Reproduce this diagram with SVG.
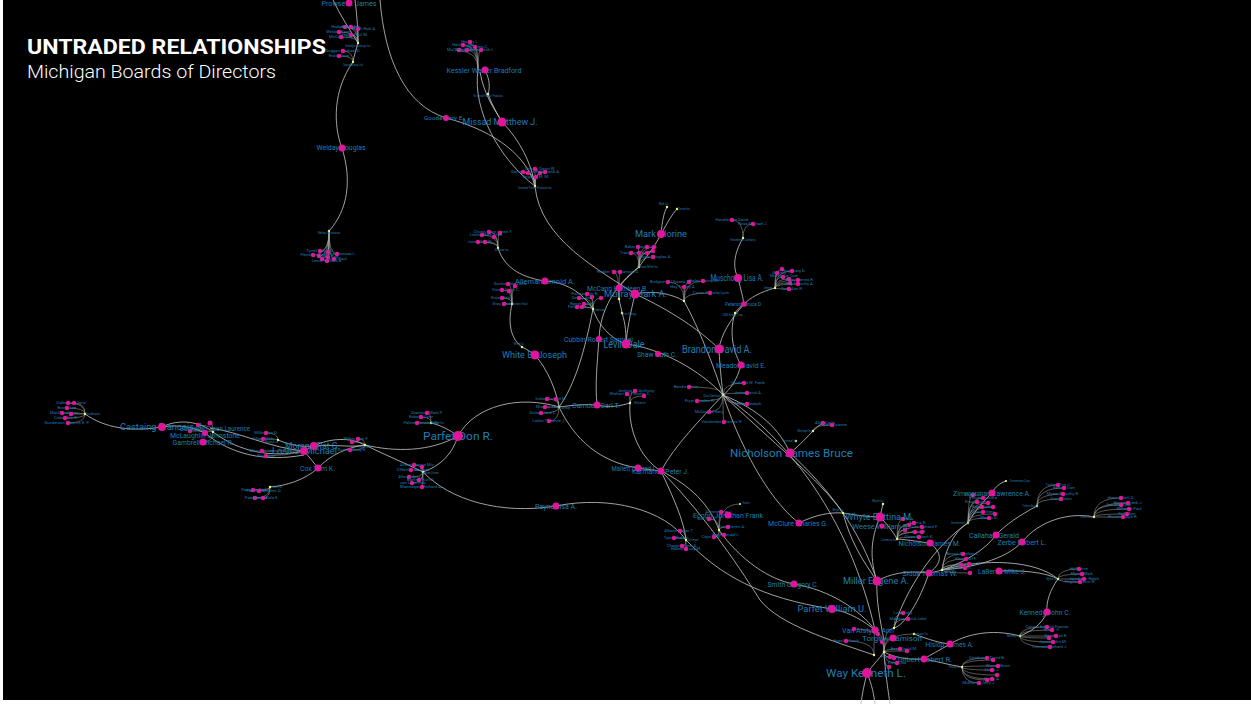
<svg xmlns="http://www.w3.org/2000/svg" width="1251" height="704" viewBox="0 0 1251 704">
<style>
.l{font-family:Roboto,"Liberation Sans",sans-serif;fill:#1c7fb4;text-anchor:middle}
.x{font-size:4.2px}
.hl{font-family:Roboto,"Liberation Sans",sans-serif;font-size:2.6px;fill:#2a7fae;text-anchor:middle}
.n{fill:#e0169a}
.h{fill:#e9f77a}
.e{fill:none;stroke:#bdbdbd;stroke-width:.85}
.f{fill:none;stroke:#a9a9a9;stroke-width:.5}
</style>
<rect width="1251" height="704" fill="#fff"/>
<rect x="3" y="0" width="1248" height="700" fill="#000"/>
<g id="title">
<text x="27" y="54" font-family="Roboto,'Liberation Sans',sans-serif" font-weight="700" font-size="21" fill="#fff" textLength="299" lengthAdjust="spacingAndGlyphs">UNTRADED RELATIONSHIPS</text>
<text x="27" y="78" font-family="Roboto,'Liberation Sans',sans-serif" font-weight="300" font-size="19" fill="#fff" textLength="249" lengthAdjust="spacingAndGlyphs">Michigan Boards of Directors</text>
</g>
<g id="connectors">
<path class="e" d="M333,0 C340,15 350,30 358,43"/>
<path class="e" d="M355,0 C357,15 358,30 358,43"/>
<path class="e" d="M380,0 C385,60 405,105 446,118"/>
<path class="e" d="M446,118 C485,128 525,150 535,186"/>
<path class="e" d="M358,43 C356,50 354,56 353,62"/>
<path class="e" d="M353,62 C333,90 333,125 342,148"/>
<path class="e" d="M342,148 C352,180 348,210 329,231"/>
<path class="e" d="M478,70 C472,110 500,160 535,186"/>
<path class="e" d="M485,70 C490,80 490,88 488,94"/>
<path class="e" d="M488,94 C492,105 498,115 502,122"/>
<path class="e" d="M480,72 C484,95 495,110 502,122"/>
<path class="e" d="M502,122 C520,140 532,165 535,186"/>
<path class="e" d="M535,186 C540,240 600,270 635,294"/>
<path class="e" d="M635,294 C670,310 700,330 719,349"/>
<path class="e" d="M498,248 C505,270 525,278 545,281"/>
<path class="e" d="M545,281 C565,282 582,292 593,309"/>
<path class="e" d="M512,304 C507,325 512,340 522,347"/>
<path class="e" d="M522,347 C528,350 532,353 535,355"/>
<path class="e" d="M535,355 C548,370 556,390 559,407"/>
<path class="e" d="M593,309 C600,330 615,340 626,344"/>
<path class="e" d="M593,309 C585,350 575,385 559,407"/>
<path class="e" d="M661,234 C653,250 645,258 639,267"/>
<path class="e" d="M661,234 C662,222 664,212 667,207"/>
<path class="e" d="M661,234 C668,222 672,214 677,209"/>
<path class="e" d="M639,267 C615,285 600,310 599,339"/>
<path class="e" d="M599,339 C597,365 595,385 597,405"/>
<path class="e" d="M559,407 C575,405 585,404 597,405"/>
<path class="e" d="M597,405 C610,408 620,406 630,403"/>
<path class="e" d="M639,267 C630,275 622,282 619,288"/>
<path class="e" d="M619,288 C619,292 619,296 619,299 C620,305 622,310 622,313 C626,325 626,335 626,344"/>
<path class="e" d="M635,294 C630,315 627,330 626,344"/>
<path class="e" d="M635,294 C655,290 672,294 684,301"/>
<path class="e" d="M626,344 C660,348 700,370 723,395"/>
<path class="e" d="M684,301 C700,330 715,370 723,395"/>
<path class="e" d="M743,238 C733,255 733,268 738,278"/>
<path class="e" d="M738,278 C741,290 743,298 744,304"/>
<path class="e" d="M775,288 C760,292 750,298 744,304"/>
<path class="e" d="M744,304 C740,307 737,310 735,313"/>
<path class="e" d="M744,304 C730,320 721,335 719,349"/>
<path class="e" d="M735,313 C728,335 735,355 741,365"/>
<path class="e" d="M741,365 C737,380 730,390 723,395"/>
<path class="e" d="M719,349 C720,370 722,385 723,395"/>
<path class="e" d="M723,395 C760,410 780,430 790,453"/>
<path class="e" d="M723,395 C745,460 775,505 799,523"/>
<path class="e" d="M723,395 C790,440 850,520 875,630"/>
<path class="e" d="M723,395 C770,440 820,480 843,513"/>
<path class="e" d="M723,395 C700,420 675,445 661,471"/>
<path class="e" d="M686,540 C720,575 760,598 832,609"/>
<path class="e" d="M832,609 C850,612 865,622 875,630"/>
<path class="e" d="M719,530 C740,560 770,580 794,584"/>
<path class="e" d="M794,584 C830,590 860,610 875,630"/>
<path class="e" d="M661,471 C690,485 710,505 719,530"/>
<path class="e" d="M661,471 C672,495 684,520 686,540"/>
<path class="e" d="M661,471 C700,510 735,560 760,600 C780,625 830,640 874,655"/>
<path class="e" d="M638,468 C650,470 655,470 661,471"/>
<path class="e" d="M559,407 C575,440 600,462 638,468"/>
<path class="e" d="M630,403 C628,430 640,458 661,471"/>
<path class="e" d="M423,472 C450,500 500,515 556,506"/>
<path class="e" d="M556,506 C610,495 665,510 686,540"/>
<path class="e" d="M559,407 C520,395 475,405 458,436"/>
<path class="e" d="M458,436 C452,455 440,466 423,472"/>
<path class="e" d="M458,436 C430,452 395,452 365,445"/>
<path class="e" d="M365,445 C385,455 405,463 423,472"/>
<path class="e" d="M431,423 C440,425 450,430 458,436"/>
<path class="e" d="M85,414 C105,428 130,432 162,427"/>
<path class="e" d="M162,427 C180,418 200,422 213,432"/>
<path class="e" d="M162,427 C180,424 195,428 205,433"/>
<path class="e" d="M213,432 C240,452 270,458 304,451"/>
<path class="e" d="M205,433 C232,455 265,462 304,455"/>
<path class="e" d="M210,428 C240,432 270,448 304,451"/>
<path class="e" d="M304,451 C308,449 311,447 314,446"/>
<path class="e" d="M314,446 C330,438 350,437 365,445"/>
<path class="e" d="M314,446 C335,444 352,448 365,445"/>
<path class="e" d="M278,440 C292,446 304,447 314,446"/>
<path class="e" d="M318,468 C305,480 285,486 270,487"/>
<path class="e" d="M318,468 C330,455 348,447 365,445"/>
<path class="e" d="M304,451 C310,458 314,463 318,468"/>
<path class="e" d="M790,453 C800,445 808,436 813,431"/>
<path class="e" d="M813,431 C817,427 820,425 823,423"/>
<path class="e" d="M790,453 C830,490 860,530 877,581"/>
<path class="e" d="M799,523 C815,515 830,512 843,513"/>
<path class="e" d="M843,513 C855,515 868,517 880,517"/>
<path class="e" d="M883,504 C882,508 881,512 880,517"/>
<path class="e" d="M880,517 C888,525 893,532 897,539"/>
<path class="e" d="M897,539 C910,540 920,542 930,543"/>
<path class="e" d="M929,573 C905,570 890,574 877,581"/>
<path class="e" d="M929,573 C935,572 938,571 942,570"/>
<path class="e" d="M942,570 C945,550 955,530 968,523"/>
<path class="e" d="M968,523 C975,510 985,500 992,493"/>
<path class="e" d="M992,493 C995,487 1000,483 1006,481"/>
<path class="e" d="M1037,506 C1020,515 1005,525 996,535"/>
<path class="e" d="M996,535 C985,550 965,562 942,570"/>
<path class="e" d="M1022,542 C1040,520 1070,512 1094,517"/>
<path class="e" d="M1022,542 C1005,560 970,568 942,570"/>
<path class="e" d="M942,570 C985,558 1035,560 1058,579"/>
<path class="e" d="M999,571 C1020,570 1045,572 1058,579"/>
<path class="e" d="M1058,579 C1050,590 1046,602 1047,612"/>
<path class="e" d="M1047,612 C1042,625 1030,632 1020,636"/>
<path class="e" d="M1020,636 C990,628 965,635 950,644"/>
<path class="e" d="M950,644 C940,650 930,655 924,659"/>
<path class="e" d="M962,667 C950,665 935,661 924,659"/>
<path class="e" d="M877,581 C876,600 880,620 884,640"/>
<path class="e" d="M924,659 C910,660 895,658 884,652"/>
<path class="e" d="M884,652 C878,660 872,666 867,673"/>
<path class="e" d="M867,673 C864,685 862,695 861,704"/>
<path class="e" d="M867,673 C872,685 874,695 875,704"/>
<path class="e" d="M884,652 C885,670 888,690 890,704"/>
<path class="e" d="M880,517 C870,540 870,560 877,581"/>
<path class="e" d="M843,513 C850,540 862,560 877,581"/>
<path class="e" d="M929,573 C920,600 905,625 894,628"/>
<path class="e" d="M914,634 C930,640 940,643 950,644"/>
<path class="e" d="M930,543 C945,555 940,565 929,573"/>
<path class="e" d="M968,523 C935,545 905,590 894,628"/>
<g class="f">
<path d="M345,27 Q358,27 358,43"/><path d="M351,27 Q358,27 358,43"/><path d="M358,29 Q358,29 358,43"/><path d="M339,32 Q358,32 358,43"/><path d="M351,35 Q358,35 358,43"/><path d="M341,37 Q358,37 358,43"/>
<path d="M343,51 Q353,51 353,62"/><path d="M339,56 Q353,56 353,62"/>
<path d="M463,45 Q478,45 478,70"/><path d="M470,44 Q478,44 478,70"/><path d="M475,47 Q478,47 478,70"/><path d="M481,50 Q478,50 478,70"/><path d="M459,51 Q478,51 478,70"/><path d="M467,50 Q478,50 478,70"/>
<path d="M535,169 Q535,169 535,186"/><path d="M523,172 Q535,172 535,186"/><path d="M528,173 Q535,173 535,186"/><path d="M540,173 Q535,173 535,186"/><path d="M545,172 Q535,172 535,186"/><path d="M536,177 Q535,177 535,186"/>
<path d="M320,251 Q329,251 329,231"/><path d="M328,252 Q329,252 329,231"/><path d="M337,254 Q329,254 329,231"/><path d="M313,255 Q329,255 329,231"/><path d="M319,256 Q329,256 329,231"/><path d="M328,257 Q329,257 329,231"/><path d="M322,259 Q329,259 329,231"/><path d="M334,259 Q329,259 329,231"/><path d="M327,261 Q329,261 329,231"/>
<path d="M489,232 Q498,232 498,248"/><path d="M500,233 Q498,233 498,248"/><path d="M482,235 Q498,235 498,248"/><path d="M494,237 Q498,237 498,248"/><path d="M478,242 Q498,242 498,248"/><path d="M485,242 Q498,242 498,248"/>
<path d="M508,284 Q512,284 512,304"/><path d="M515,286 Q512,286 512,304"/><path d="M502,290 Q512,290 512,304"/><path d="M509,291 Q512,291 512,304"/><path d="M502,298 Q512,298 512,304"/><path d="M504,304 Q512,304 512,304"/>
<path d="M587,294 Q593,294 593,309"/><path d="M592,297 Q593,297 593,309"/><path d="M579,298 Q593,298 593,309"/><path d="M601,298 Q593,298 593,309"/><path d="M584,304 Q593,304 593,309"/><path d="M577,307 Q593,307 593,309"/><path d="M582,307 Q593,307 593,309"/>
<path d="M638,247 Q639,247 639,267"/><path d="M647,247 Q639,247 639,267"/><path d="M654,247 Q639,247 639,267"/><path d="M631,253 Q639,253 639,267"/><path d="M639,253 Q639,253 639,267"/><path d="M647,253 Q639,253 639,267"/><path d="M653,251 Q639,251 639,267"/><path d="M653,257 Q639,257 639,267"/>
<path d="M614,272 Q619,272 619,299"/><path d="M620,272 Q619,272 619,299"/>
<path d="M668,282 Q684,282 684,301"/><path d="M689,282 Q684,282 684,301"/><path d="M703,281 Q684,281 684,301"/><path d="M684,287 Q684,287 684,301"/><path d="M710,293 Q684,293 684,301"/>
<path d="M732,220 Q743,220 743,238"/><path d="M753,224 Q743,224 743,238"/>
<path d="M777,273 Q775,273 775,288"/><path d="M782,269 Q775,269 775,288"/><path d="M792,271 Q775,271 775,288"/><path d="M789,279 Q775,279 775,288"/><path d="M798,280 Q775,280 775,288"/><path d="M783,277 Q775,277 775,288"/><path d="M790,283 Q775,283 775,288"/><path d="M798,284 Q775,284 775,288"/><path d="M789,289 Q775,289 775,288"/>
<path d="M744,383 Q723,383 723,395"/><path d="M747,393 Q723,393 723,395"/><path d="M747,404 Q723,404 723,395"/><path d="M689,387 Q723,387 723,395"/><path d="M697,401 Q723,401 723,395"/><path d="M709,412 Q723,412 723,395"/><path d="M724,422 Q723,422 723,395"/>
<path d="M832,425 Q813,425 813,431"/>
<path d="M547,399 Q559,399 559,407"/><path d="M556,399 Q559,399 559,407"/><path d="M545,407 Q559,407 559,407"/><path d="M541,413 Q559,413 559,407"/><path d="M549,421 Q559,421 559,407"/>
<path d="M635,391 Q630,391 630,403"/><path d="M627,394 Q630,394 630,403"/><path d="M644,396 Q630,396 630,403"/>
<path d="M427,413 Q431,413 431,423"/><path d="M421,417 Q431,417 431,423"/><path d="M417,423 Q431,423 431,423"/>
<path d="M414,465 Q423,465 423,472"/><path d="M422,467 Q423,467 423,472"/><path d="M411,470 Q423,470 423,472"/><path d="M409,477 Q423,477 423,472"/><path d="M419,480 Q423,480 423,472"/><path d="M412,483 Q423,483 423,472"/><path d="M422,487 Q423,487 423,472"/>
<path d="M68,403 Q85,403 85,414"/><path d="M74,403 Q85,403 85,414"/><path d="M67,408 Q85,408 85,414"/><path d="M62,413 Q85,413 85,414"/><path d="M71,414 Q85,414 85,414"/><path d="M65,418 Q85,418 85,414"/><path d="M68,423 Q85,423 85,414"/>
<path d="M198,425 Q213,425 213,432"/><path d="M210,423 Q213,423 213,432"/><path d="M190,431 Q213,431 213,432"/><path d="M203,442 Q213,442 213,432"/>
<path d="M266,433 Q278,433 278,440"/><path d="M263,439 Q278,439 278,440"/>
<path d="M262,451 Q280,451 304,451"/><path d="M266,456 Q285,456 304,451"/>
<path d="M352,442 Q365,442 365,445"/><path d="M358,439 Q365,439 365,445"/><path d="M350,450 Q365,450 365,445"/>
<path d="M253,490 Q270,490 270,487"/><path d="M259,491 Q270,491 270,487"/><path d="M255,498 Q270,498 270,487"/><path d="M263,498 Q270,498 270,487"/>
<path d="M721,512 Q719,512 719,530"/><path d="M709,519 Q719,519 719,530"/><path d="M728,527 Q719,527 719,530"/><path d="M724,535 Q719,535 719,530"/><path d="M714,537 Q719,537 719,530"/><path d="M740,504 Q719,504 719,530"/>
<path d="M680,531 Q686,531 686,540"/><path d="M674,538 Q686,538 686,540"/><path d="M682,546 Q686,546 686,540"/><path d="M686,549 Q686,549 686,540"/>
<path d="M903,519 Q897,519 897,539"/><path d="M914,523 Q897,523 897,539"/><path d="M909,525 Q897,525 897,539"/><path d="M922,527 Q897,527 897,539"/><path d="M905,530 Q897,530 897,539"/><path d="M915,532 Q897,532 897,539"/><path d="M922,532 Q897,532 897,539"/><path d="M919,537 Q897,537 897,539"/>
<path d="M973,495 Q968,495 968,523"/><path d="M983,498 Q968,498 968,523"/><path d="M977,502 Q968,502 968,523"/><path d="M988,503 Q968,503 968,523"/><path d="M982,507 Q968,507 968,523"/><path d="M993,507 Q968,507 968,523"/><path d="M983,512 Q968,512 968,523"/><path d="M995,514 Q968,514 968,523"/><path d="M989,518 Q968,518 968,523"/>
<path d="M1058,485 Q1037,485 1037,506"/><path d="M1064,488 Q1037,488 1037,506"/><path d="M1063,494 Q1037,494 1037,506"/><path d="M1061,499 Q1037,499 1037,506"/>
<path d="M1121,498 Q1094,498 1094,517"/><path d="M1128,503 Q1094,503 1094,517"/><path d="M1121,505 Q1094,505 1094,517"/><path d="M1129,509 Q1094,509 1094,517"/><path d="M1127,514 Q1094,514 1094,517"/><path d="M1123,517 Q1094,517 1094,517"/>
<path d="M963,554 Q942,554 942,570"/><path d="M966,559 Q942,559 942,570"/><path d="M969,564 Q942,564 942,570"/><path d="M961,565 Q942,565 942,570"/><path d="M965,568 Q942,568 942,570"/><path d="M970,573 Q942,573 942,570"/>
<path d="M1079,569 Q1058,569 1058,579"/><path d="M1082,574 Q1058,574 1058,579"/><path d="M1084,579 Q1058,579 1058,579"/><path d="M1080,582 Q1058,582 1058,579"/>
<path d="M1047,627 Q1020,627 1020,636"/><path d="M1052,630 Q1020,630 1020,636"/><path d="M1056,636 Q1020,636 1020,636"/><path d="M1049,638 Q1020,638 1020,636"/><path d="M1053,642 Q1020,642 1020,636"/><path d="M1050,647 Q1020,647 1020,636"/>
<path d="M987,658 Q962,658 962,667"/><path d="M993,660 Q962,660 962,667"/><path d="M998,666 Q962,666 962,667"/><path d="M992,670 Q962,670 962,667"/><path d="M997,675 Q962,675 962,667"/><path d="M992,679 Q962,679 962,667"/><path d="M987,680 Q962,680 962,667"/><path d="M979,683 Q962,683 962,667"/>
<path d="M903,613 Q894,613 894,628"/><path d="M908,619 Q894,619 894,628"/><path d="M854,629 Q884,629 884,652"/><path d="M878,634 Q884,634 884,652"/><path d="M846,641 Q874,641 874,655"/><path d="M882,642 Q884,642 884,652"/><path d="M900,649 Q884,649 884,652"/><path d="M907,651 Q884,651 884,652"/><path d="M890,657 Q884,657 884,652"/><path d="M894,658 Q884,658 884,652"/><path d="M897,663 Q884,663 884,652"/><path d="M889,667 Q884,667 884,652"/><path d="M893,638 Q884,638 884,652"/><path d="M894,628 Q884,628 884,652"/><path d="M914,634 Q884,634 884,652"/><path d="M875,630 Q874,630 874,655"/>
</g>
</g>
<g id="hubs">
<circle class="h" cx="358" cy="43" r="1.2"/><text class="hl" x="358" y="46.5">Strategic Holdings Inc.</text>
<circle class="h" cx="353" cy="62" r="1.2"/><text class="hl" x="353" y="65.5">Capital Group Ltd.</text>
<circle class="h" cx="488" cy="94" r="1.2"/><text class="hl" x="488" y="97">Universal Forest Products</text>
<circle class="h" cx="535" cy="186" r="1.2"/><text class="hl" x="535" y="189">Universal Forest Products Inc.</text>
<circle class="h" cx="329" cy="231" r="1.2"/><text class="hl" x="329" y="234">Welday Corporation</text>
<circle class="h" cx="498" cy="248" r="1.2"/><text class="hl" x="502" y="250.5">Alleman Inc.</text>
<circle class="h" cx="512" cy="304" r="1.2"/><text class="hl" x="520" y="305">Gordon Food</text>
<circle class="h" cx="522" cy="347" r="1.2"/><text class="hl" x="519" y="345">White Co.</text>
<circle class="h" cx="593" cy="309" r="1.2"/><text class="hl" x="600" y="311">Steelcase</text>
<circle class="h" cx="639" cy="267" r="1.2"/><text class="hl" x="648" y="267.5">Herman Miller Inc.</text>
<circle class="h" cx="619" cy="299" r="1.2"/>
<circle class="h" cx="622" cy="313" r="1.2"/><text class="hl" x="629" y="315">Levin Energy</text>
<circle class="h" cx="667" cy="207" r="1.2"/><text class="hl" x="664" y="205">Mark Co.</text>
<circle class="h" cx="677" cy="209" r="1.2"/><text class="hl" x="684" y="210">Clorine Inc.</text>
<circle class="h" cx="684" cy="301" r="1.2"/>
<circle class="h" cx="743" cy="238" r="1.2"/><text class="hl" x="743" y="241">Handleman Company</text>
<circle class="h" cx="775" cy="288" r="1.2"/><text class="hl" x="768" y="289">Gentex</text>
<circle class="h" cx="735" cy="313" r="1.2"/><text class="hl" x="733" y="315.5">CMS Energy Corp.</text>
<circle class="h" cx="723" cy="395" r="1.4"/><text class="hl" x="714" y="397">Dow Chemical Co.</text>
<circle class="h" cx="813" cy="431" r="1.2"/><text class="hl" x="805" y="432">Meritage Inc.</text>
<circle class="h" cx="796" cy="441" r="1.2"/><text class="hl" x="790" y="442">Universal Inc.</text>
<circle class="h" cx="559" cy="407" r="1.3"/><text class="hl" x="566" y="408.5">Amway</text>
<circle class="h" cx="630" cy="403" r="1.2"/><text class="hl" x="640" y="404">Wolverine</text>
<circle class="h" cx="431" cy="423" r="1.2"/><text class="hl" x="438" y="424">Palmer Inc.</text>
<circle class="h" cx="423" cy="472" r="1.3"/><text class="hl" x="430" y="474">Spartan Stores</text>
<circle class="h" cx="85" cy="414" r="1.2"/><text class="hl" x="93" y="414.5">Gundersons</text>
<circle class="h" cx="213" cy="432" r="1.2"/>
<circle class="h" cx="278" cy="440" r="1.2"/><text class="hl" x="272" y="443">Morand Ltd.</text>
<circle class="h" cx="365" cy="445" r="1.2"/><text class="hl" x="365" y="448">Tecumseh</text>
<circle class="h" cx="270" cy="487" r="1.2"/><text class="hl" x="278" y="488">Cox Inc.</text>
<circle class="h" cx="719" cy="530" r="1.2"/>
<circle class="h" cx="740" cy="504" r="1.1"/><text class="hl" x="746" y="504">Ecofin</text>
<circle class="h" cx="686" cy="540" r="1.2"/><text class="hl" x="693" y="541">Universal</text>
<circle class="h" cx="843" cy="513" r="1.2"/><text class="hl" x="838" y="511">Whyte Co.</text>
<circle class="h" cx="883" cy="504" r="1.2"/><text class="hl" x="878" y="502">Whyte Ltd.</text>
<circle class="h" cx="897" cy="539" r="1.2"/><text class="hl" x="889" y="541">Comerica Inc.</text>
<circle class="h" cx="968" cy="523" r="1.2"/><text class="hl" x="960" y="524">Zimmerman Co.</text>
<circle class="h" cx="1006" cy="481" r="1.1"/><text class="hl" x="1020" y="482">Zimmerman Corp.</text>
<circle class="h" cx="1037" cy="506" r="1.2"/><text class="hl" x="1030" y="507">Tichen Group</text>
<circle class="h" cx="1094" cy="517" r="1.2"/><text class="hl" x="1087" y="518">Hose Corp.</text>
<circle class="h" cx="942" cy="570" r="1.2"/><text class="hl" x="950" y="571.5">Siduk Inc.</text>
<circle class="h" cx="1058" cy="579" r="1.2"/><text class="hl" x="1052" y="580">Myers Co.</text>
<circle class="h" cx="1020" cy="636" r="1.2"/><text class="hl" x="1014" y="637">Kennedy Inc.</text>
<circle class="h" cx="962" cy="667" r="1.2"/><text class="hl" x="955" y="668">Hislop Co.</text>
<circle class="h" cx="884" cy="652" r="1.3"/>
<circle class="h" cx="894" cy="628" r="1.2"/>
<circle class="h" cx="914" cy="634" r="1.2"/><text class="hl" x="921" y="635">Jamison Co.</text>
<circle class="h" cx="874" cy="655" r="1.2"/>
</g>
<g id="small-nodes">
<g id="s1"><text class="l x" x="345" y="28.4">Hodges Martin</text><circle class="n" cx="345" cy="27" r="2.2"/></g>
<g id="s2"><text class="l x" x="351" y="28.4">Baker Ann</text><circle class="n" cx="351" cy="27" r="2.2"/></g>
<g id="s3"><text class="l x" x="364" y="30.4">Burch Rick A.</text><circle class="n" cx="358" cy="29" r="2.2"/></g>
<g id="s4"><text class="l x" x="339" y="33.4">Welday Karen</text><circle class="n" cx="339" cy="32" r="2.2"/></g>
<g id="s5"><text class="l x" x="355" y="36.4">Heller Paul M.</text><circle class="n" cx="351" cy="35" r="2.2"/></g>
<g id="s6"><text class="l x" x="341" y="38.4">McCarty Sue</text><circle class="n" cx="341" cy="37" r="2.2"/></g>
<g id="s7"><text class="l x" x="343" y="52.4">Duggan Michael D.</text><circle class="n" cx="343" cy="51" r="2.2"/></g>
<g id="s8"><text class="l x" x="339" y="57.4">Risley Tom</text><circle class="n" cx="339" cy="56" r="2.2"/></g>
<g id="s9"><text class="l x" x="463" y="46.4">Hartley Jon</text><circle class="n" cx="463" cy="45" r="2.2"/></g>
<g id="s10"><text class="l x" x="470" y="43.4">Hendry L.</text><circle class="n" cx="470" cy="42" r="2.2"/></g>
<g id="s11"><text class="l x" x="477" y="48.4">Hall Craig C.</text><circle class="n" cx="475" cy="47" r="2.2"/></g>
<g id="s12"><text class="l x" x="481" y="51.4">Martin Keith L.</text><circle class="n" cx="481" cy="50" r="2.2"/></g>
<g id="s13"><text class="l x" x="459" y="51.4">McClure Ann</text><circle class="n" cx="459" cy="50" r="2.2"/></g>
<g id="s14"><text class="l x" x="467" y="51.4">Nelson Brett</text><circle class="n" cx="467" cy="50" r="2.2"/></g>
<g id="s15"><text class="l x" x="540" y="170.4">Shields Dawn W.</text><circle class="n" cx="535" cy="169" r="2.2"/></g>
<g id="s16"><text class="l x" x="523" y="173.4">Garrison Ann</text><circle class="n" cx="523" cy="172" r="2.2"/></g>
<g id="s17"><circle class="n" cx="528" cy="173" r="2.2"/></g>
<g id="s18"><circle class="n" cx="540" cy="173" r="2.2"/></g>
<g id="s19"><text class="l x" x="548" y="173.4">Kalil Frank A.</text><circle class="n" cx="545" cy="172" r="2.2"/></g>
<g id="s20"><text class="l x" x="536" y="178.4">England M. M.</text><circle class="n" cx="536" cy="177" r="2.2"/></g>
<g id="s21"><text class="l x" x="320" y="252.4">Tyrrell David D.</text><circle class="n" cx="320" cy="251" r="2.2"/></g>
<g id="s22"><circle class="n" cx="328" cy="252" r="2.2"/></g>
<g id="s23"><text class="l x" x="340" y="255.4">Evans Thomas L.</text><circle class="n" cx="337" cy="254" r="2.2"/></g>
<g id="s24"><text class="l x" x="313" y="256.4">Fleming Joan</text><circle class="n" cx="313" cy="255" r="2.2"/></g>
<g id="s25"><circle class="n" cx="319" cy="256" r="2.2"/></g>
<g id="s26"><text class="l x" x="328" y="258.4">Walker Ted</text><circle class="n" cx="328" cy="257" r="2.2"/></g>
<g id="s27"><circle class="n" cx="322" cy="259" r="2.2"/></g>
<g id="s28"><text class="l x" x="337" y="260.4">Rossi Paul</text><circle class="n" cx="334" cy="259" r="2.2"/></g>
<g id="s29"><text class="l x" x="327" y="262.4">Lewis Richard B.</text><circle class="n" cx="327" cy="261" r="2.2"/></g>
<g id="s30"><text class="l x" x="493" y="233.4">Chung Anne Lance T.</text><circle class="n" cx="489" cy="232" r="2.2"/></g>
<g id="s31"><circle class="n" cx="500" cy="233" r="2.2"/></g>
<g id="s32"><text class="l x" x="486" y="236.4">Linder Mark Allen</text><circle class="n" cx="482" cy="235" r="2.2"/></g>
<g id="s33"><circle class="n" cx="494" cy="237" r="2.2"/></g>
<g id="s34"><text class="l x" x="480" y="243.4">Jones Ted W.</text><circle class="n" cx="478" cy="242" r="2.2"/></g>
<g id="s35"><circle class="n" cx="485" cy="242" r="2.2"/></g>
<g id="s36"><text class="l x" x="510" y="285.4">Gordon Rita Chris</text><circle class="n" cx="508" cy="284" r="2.2"/></g>
<g id="s37"><circle class="n" cx="515" cy="286" r="2.2"/></g>
<g id="s38"><text class="l x" x="506" y="291.4">Steele Stacy C.</text><circle class="n" cx="502" cy="290" r="2.2"/></g>
<g id="s39"><circle class="n" cx="509" cy="291" r="2.2"/></g>
<g id="s40"><text class="l x" x="502" y="299.4">Green Ralph</text><circle class="n" cx="502" cy="298" r="2.2"/></g>
<g id="s41"><text class="l x" x="502" y="305.4">Gray Mark</text><circle class="n" cx="504" cy="304" r="2.2"/></g>
<g id="s42"><text class="l x" x="585" y="295.4">Polman Jim R.</text><circle class="n" cx="587" cy="294" r="2.2"/></g>
<g id="s43"><circle class="n" cx="592" cy="297" r="2.2"/></g>
<g id="s44"><text class="l x" x="582" y="299.4">Dewey Ann</text><circle class="n" cx="579" cy="298" r="2.2"/></g>
<g id="s45"><circle class="n" cx="601" cy="298" r="2.2"/></g>
<g id="s46"><text class="l x" x="582" y="305.4">Barge Susan</text><circle class="n" cx="584" cy="304" r="2.2"/></g>
<g id="s47"><text class="l x" x="577" y="308.4">Fella Tom</text><circle class="n" cx="577" cy="307" r="2.2"/></g>
<g id="s48"><circle class="n" cx="582" cy="307" r="2.2"/></g>
<g id="s49"><text class="l x" x="641" y="248.4">Baker Frank John</text><circle class="n" cx="638" cy="247" r="2.2"/></g>
<g id="s50"><circle class="n" cx="647" cy="247" r="2.2"/></g>
<g id="s51"><circle class="n" cx="654" cy="247" r="2.2"/></g>
<g id="s52"><text class="l x" x="636" y="254.4">Tracy Ann Paul F.</text><circle class="n" cx="631" cy="253" r="2.2"/></g>
<g id="s53"><circle class="n" cx="639" cy="253" r="2.2"/></g>
<g id="s54"><circle class="n" cx="647" cy="253" r="2.2"/></g>
<g id="s55"><circle class="n" cx="653" cy="251" r="2.2"/></g>
<g id="s56"><text class="l x" x="655" y="258.4">Jones Douglas A.</text><circle class="n" cx="653" cy="257" r="2.2"/></g>
<g id="s57"><text class="l x" x="618" y="273.4">Redder Tom Samuel D.</text><circle class="n" cx="614" cy="272" r="2.2"/></g>
<g id="s58"><circle class="n" cx="620" cy="272" r="2.2"/></g>
<g id="s59"><text class="l x" x="670" y="283.4">Bridgeman Ulysses B.</text><circle class="n" cx="668" cy="282" r="2.2"/></g>
<g id="s60"><circle class="n" cx="689" cy="282" r="2.2"/></g>
<g id="s61"><text class="l x" x="704" y="282.4">Bailey Nancy M.</text><circle class="n" cx="703" cy="281" r="2.2"/></g>
<g id="s62"><text class="l x" x="683" y="288.4">Hey Tracey A.</text><circle class="n" cx="684" cy="287" r="2.2"/></g>
<g id="s63"><text class="l x" x="711" y="294.4">Carter Pamela Lynn</text><circle class="n" cx="710" cy="293" r="2.2"/></g>
<g id="s64"><text class="l x" x="732" y="221.4">Handleman David</text><circle class="n" cx="732" cy="220" r="2.2"/></g>
<g id="s65"><text class="l x" x="753" y="225.4">Ross Michael J.</text><circle class="n" cx="753" cy="224" r="2.2"/></g>
<g id="s66"><text class="l x" x="779" y="274.4">Gr Sing</text><circle class="n" cx="777" cy="273" r="2.2"/></g>
<g id="s67"><circle class="n" cx="782" cy="269" r="2.2"/></g>
<g id="s68"><text class="l x" x="794" y="272.4">Hug Craig D.</text><circle class="n" cx="792" cy="271" r="2.2"/></g>
<g id="s69"><text class="l x" x="784" y="277.4">Montague Tom</text><circle class="n" cx="783" cy="277" r="2.2"/></g>
<g id="s70"><circle class="n" cx="789" cy="279" r="2.2"/></g>
<g id="s71"><text class="l x" x="800" y="281.4">Perry James R.</text><circle class="n" cx="798" cy="280" r="2.2"/></g>
<g id="s72"><circle class="n" cx="790" cy="283" r="2.2"/></g>
<g id="s73"><text class="l x" x="800" y="285.4">Ray Timothy A.</text><circle class="n" cx="798" cy="284" r="2.2"/></g>
<g id="s74"><text class="l x" x="792" y="290.4">Tuck Ann R.</text><circle class="n" cx="789" cy="289" r="2.2"/></g>
<g id="s75"><text class="l x" x="748" y="384.4">Stoddard W. Frank</text><circle class="n" cx="744" cy="383" r="2.2"/></g>
<g id="s76"><text class="l x" x="748" y="394.4">Jones David A.</text><circle class="n" cx="747" cy="393" r="2.2"/></g>
<g id="s77"><text class="l x" x="748" y="405.4">Muller Joseph</text><circle class="n" cx="747" cy="404" r="2.2"/></g>
<g id="s78"><text class="l x" x="686" y="388.4">Baudie Cloun</text><circle class="n" cx="689" cy="387" r="2.2"/></g>
<g id="s79"><text class="l x" x="700" y="402.4">Pryor Charles W.</text><circle class="n" cx="697" cy="401" r="2.2"/></g>
<g id="s80"><text class="l x" x="709" y="413.4">McDonald Gary</text><circle class="n" cx="709" cy="412" r="2.2"/></g>
<g id="s81"><text class="l x" x="722" y="423.4">Vandenberg James H.</text><circle class="n" cx="724" cy="422" r="2.2"/></g>
<g id="s82"><text class="l x" x="825" y="424.4">Allen Carla</text><circle class="n" cx="823" cy="423" r="2.2"/></g>
<g id="s83"><text class="l x" x="834" y="426.4">Tyler Suzanne</text><circle class="n" cx="832" cy="425" r="2.2"/></g>
<g id="s84"><text class="l x" x="551" y="400.4">Sulzer Donald M.</text><circle class="n" cx="547" cy="399" r="2.2"/></g>
<g id="s85"><circle class="n" cx="556" cy="399" r="2.2"/></g>
<g id="s86"><text class="l x" x="548" y="408.4">Murphy Jack</text><circle class="n" cx="545" cy="407" r="2.2"/></g>
<g id="s87"><text class="l x" x="543" y="414.4">Dutton Jane L.</text><circle class="n" cx="541" cy="413" r="2.2"/></g>
<g id="s88"><text class="l x" x="549" y="422.4">Larkin Terrence J.</text><circle class="n" cx="549" cy="421" r="2.2"/></g>
<g id="s89"><text class="l x" x="636" y="392.4">Jenkins W. Anthony</text><circle class="n" cx="635" cy="391" r="2.2"/></g>
<g id="s90"><text class="l x" x="630" y="395.4">Wishart Ed Timothy C.</text><circle class="n" cx="627" cy="394" r="2.2"/></g>
<g id="s91"><circle class="n" cx="644" cy="396" r="2.2"/></g>
<g id="s92"><text class="l x" x="427" y="414.4">Diamond Mark P.</text><circle class="n" cx="427" cy="413" r="2.2"/></g>
<g id="s93"><text class="l x" x="421" y="418.4">Roberts Lynn</text><circle class="n" cx="421" cy="417" r="2.2"/></g>
<g id="s94"><text class="l x" x="421" y="424.4">Palmer Kenneth W.</text><circle class="n" cx="417" cy="423" r="2.2"/></g>
<g id="s95"><text class="l x" x="417" y="466.4">Archer Dennis Mic</text><circle class="n" cx="414" cy="465" r="2.2"/></g>
<g id="s96"><circle class="n" cx="422" cy="467" r="2.2"/></g>
<g id="s97"><text class="l x" x="413" y="471.4">O'Hanlon Barbara</text><circle class="n" cx="411" cy="470" r="2.2"/></g>
<g id="s98"><text class="l x" x="409" y="478.4">Allman Ann</text><circle class="n" cx="409" cy="477" r="2.2"/></g>
<g id="s99"><text class="l x" x="421" y="481.4">Barfield Kurt A.</text><circle class="n" cx="419" cy="480" r="2.2"/></g>
<g id="s100"><text class="l x" x="413" y="484.4">van Loon Rob</text><circle class="n" cx="412" cy="483" r="2.2"/></g>
<g id="s101"><text class="l x" x="421" y="488.4">Mamesgaul Richard A.</text><circle class="n" cx="422" cy="487" r="2.2"/></g>
<g id="s102"><text class="l x" x="71" y="404.4">Sidler Tom Tenz</text><circle class="n" cx="68" cy="403" r="2.2"/></g>
<g id="s103"><circle class="n" cx="74" cy="403" r="2.2"/></g>
<g id="s104"><text class="l x" x="67" y="409.4">Booth Lee</text><circle class="n" cx="67" cy="408" r="2.2"/></g>
<g id="s105"><text class="l x" x="64" y="414.4">MacDonald Ian</text><circle class="n" cx="62" cy="413" r="2.2"/></g>
<g id="s106"><circle class="n" cx="71" cy="414" r="2.2"/></g>
<g id="s107"><text class="l x" x="66" y="419.4">Coker Ann R.</text><circle class="n" cx="65" cy="418" r="2.2"/></g>
<g id="s108"><text class="l x" x="67" y="424.4">Gunderson Maurice E. P.</text><circle class="n" cx="68" cy="423" r="2.2"/></g>
<g id="s109"><circle class="n" cx="198" cy="425" r="2.2"/></g>
<g id="s110"><circle class="n" cx="190" cy="431" r="2.2"/></g>
<g id="s111"><text class="l x" x="266" y="434.4">Miller Dan D.</text><circle class="n" cx="266" cy="433" r="2.2"/></g>
<g id="s112"><text class="l x" x="263" y="440.4">Gillard Nikki</text><circle class="n" cx="263" cy="439" r="2.2"/></g>
<g id="s113"><text class="l x" x="262" y="452.4">Morrison Lee</text><circle class="n" cx="262" cy="451" r="2.2"/></g>
<g id="s114"><text class="l x" x="266" y="457.4">Ward Ann</text><circle class="n" cx="266" cy="456" r="2.2"/></g>
<g id="s115"><text class="l x" x="356" y="440.4">Wilber Tom F.</text><circle class="n" cx="358" cy="439" r="2.2"/></g>
<g id="s116"><circle class="n" cx="352" cy="442" r="2.2"/></g>
<g id="s117"><text class="l x" x="352" y="451.4">Grimes Doug R.</text><circle class="n" cx="350" cy="450" r="2.2"/></g>
<g id="s118"><text class="l x" x="254" y="491.4">Passglye Rick</text><circle class="n" cx="253" cy="490" r="2.2"/></g>
<g id="s119"><text class="l x" x="264" y="492.4">Parr Christopher D.</text><circle class="n" cx="259" cy="491" r="2.2"/></g>
<g id="s120"><text class="l x" x="256" y="499.4">Pate Ronald</text><circle class="n" cx="255" cy="498" r="2.2"/></g>
<g id="s121"><text class="l x" x="266" y="499.4">Price Moila E.</text><circle class="n" cx="263" cy="498" r="2.2"/></g>
<g id="s122"><text class="l x" x="719" y="513.4">Sumner Ann J.</text><circle class="n" cx="721" cy="512" r="2.2"/></g>
<g id="s123"><text class="l x" x="706" y="520.4">Bud Ross</text><circle class="n" cx="709" cy="519" r="2.2"/></g>
<g id="s124"><text class="l x" x="732" y="528.4">Kohl Steven A.</text><circle class="n" cx="728" cy="527" r="2.2"/></g>
<g id="s125"><text class="l x" x="726" y="536.4">Reiss Gerald L.</text><circle class="n" cx="724" cy="535" r="2.2"/></g>
<g id="s126"><text class="l x" x="711" y="538.4">Capo Tom</text><circle class="n" cx="714" cy="537" r="2.2"/></g>
<g id="s127"><text class="l x" x="679" y="532.4">Allison Susan T.</text><circle class="n" cx="680" cy="531" r="2.2"/></g>
<g id="s128"><text class="l x" x="676" y="539.4">Tyson Robert</text><circle class="n" cx="674" cy="538" r="2.2"/></g>
<g id="s129"><text class="l x" x="682" y="547.4">Chagen Diane A.</text><circle class="n" cx="682" cy="546" r="2.2"/></g>
<g id="s130"><text class="l x" x="686" y="550.4">Halbeck Lucy M.</text><circle class="n" cx="686" cy="549" r="2.2"/></g>
<g id="s131"><text class="l x" x="907" y="520.4">Sims A.</text><circle class="n" cx="903" cy="519" r="2.2"/></g>
<g id="s132"><text class="l x" x="918" y="524.4">Morris R.</text><circle class="n" cx="914" cy="523" r="2.2"/></g>
<g id="s133"><circle class="n" cx="909" cy="525" r="2.2"/></g>
<g id="s134"><text class="l x" x="925" y="528.4">Lee Richard F.</text><circle class="n" cx="922" cy="527" r="2.2"/></g>
<g id="s135"><circle class="n" cx="905" cy="530" r="2.2"/></g>
<g id="s136"><text class="l x" x="919" y="533.4">Smith E.</text><circle class="n" cx="915" cy="532" r="2.2"/></g>
<g id="s137"><circle class="n" cx="922" cy="532" r="2.2"/></g>
<g id="s138"><text class="l x" x="919" y="538.4">Olsen Robert K.</text><circle class="n" cx="919" cy="537" r="2.2"/></g>
<g id="s139"><text class="l x" x="973" y="496.4">Wolf Ann</text><circle class="n" cx="973" cy="495" r="2.2"/></g>
<g id="s140"><text class="l x" x="983" y="499.4">Proctor Sandra</text><circle class="n" cx="983" cy="498" r="2.2"/></g>
<g id="s141"><text class="l x" x="979" y="503.4">Frost Harvey L.</text><circle class="n" cx="977" cy="502" r="2.2"/></g>
<g id="s142"><circle class="n" cx="988" cy="503" r="2.2"/></g>
<g id="s143"><text class="l x" x="984" y="508.4">Ross Nathan</text><circle class="n" cx="982" cy="507" r="2.2"/></g>
<g id="s144"><circle class="n" cx="993" cy="507" r="2.2"/></g>
<g id="s145"><text class="l x" x="983" y="513.4">Dorn Sidney</text><circle class="n" cx="983" cy="512" r="2.2"/></g>
<g id="s146"><circle class="n" cx="995" cy="514" r="2.2"/></g>
<g id="s147"><text class="l x" x="989" y="519.4">Mason D.</text><circle class="n" cx="989" cy="518" r="2.2"/></g>
<g id="s148"><text class="l x" x="1058" y="486.4">Tichen Tim J.</text><circle class="n" cx="1058" cy="485" r="2.2"/></g>
<g id="s149"><text class="l x" x="1064" y="489.4">Reitzel Uwe</text><circle class="n" cx="1064" cy="488" r="2.2"/></g>
<g id="s150"><text class="l x" x="1063" y="495.4">Myers Timothy R.</text><circle class="n" cx="1063" cy="494" r="2.2"/></g>
<g id="s151"><text class="l x" x="1061" y="500.4">Simm Dean</text><circle class="n" cx="1061" cy="499" r="2.2"/></g>
<g id="s152"><text class="l x" x="1121" y="499.4">Hose Albert D.</text><circle class="n" cx="1121" cy="498" r="2.2"/></g>
<g id="s153"><text class="l x" x="1128" y="504.4">Hauser Frank J.</text><circle class="n" cx="1128" cy="503" r="2.2"/></g>
<g id="s154"><text class="l x" x="1119" y="506.4">Sanders Lynn</text><circle class="n" cx="1121" cy="505" r="2.2"/></g>
<g id="s155"><text class="l x" x="1129" y="510.4">Williams Paul</text><circle class="n" cx="1129" cy="509" r="2.2"/></g>
<g id="s156"><text class="l x" x="1127" y="515.4">Kelly Ann</text><circle class="n" cx="1127" cy="514" r="2.2"/></g>
<g id="s157"><text class="l x" x="1123" y="518.4">Brower Ralph R.</text><circle class="n" cx="1123" cy="517" r="2.2"/></g>
<g id="s158"><text class="l x" x="963" y="555.4">Benoit Stephen C.</text><circle class="n" cx="963" cy="554" r="2.2"/></g>
<g id="s159"><text class="l x" x="966" y="560.4">Klein Rolf F.</text><circle class="n" cx="966" cy="559" r="2.2"/></g>
<g id="s160"><text class="l x" x="969" y="565.4">Lowe Tom M.</text><circle class="n" cx="969" cy="564" r="2.2"/></g>
<g id="s161"><circle class="n" cx="961" cy="565" r="2.2"/></g>
<g id="s162"><text class="l x" x="962" y="569.4">Field Ann</text><circle class="n" cx="965" cy="568" r="2.2"/></g>
<g id="s163"><circle class="n" cx="970" cy="573" r="2.2"/></g>
<g id="s164"><text class="l x" x="1079" y="570.4">Hall Anne</text><circle class="n" cx="1079" cy="569" r="2.2"/></g>
<g id="s165"><text class="l x" x="1082" y="575.4">Myers Mark</text><circle class="n" cx="1082" cy="574" r="2.2"/></g>
<g id="s166"><text class="l x" x="1084" y="580.4">Jacobson Ralph</text><circle class="n" cx="1084" cy="579" r="2.2"/></g>
<g id="s167"><text class="l x" x="1080" y="583.4">Hughes Steve R.</text><circle class="n" cx="1080" cy="582" r="2.2"/></g>
<g id="s168"><text class="l x" x="1047" y="628.4">Connor Edward Francis</text><circle class="n" cx="1047" cy="627" r="2.2"/></g>
<g id="s169"><text class="l x" x="1052" y="631.4">Kral F. X.</text><circle class="n" cx="1052" cy="630" r="2.2"/></g>
<g id="s170"><text class="l x" x="1056" y="637.4">Dee Lloyd R.</text><circle class="n" cx="1056" cy="636" r="2.2"/></g>
<g id="s171"><circle class="n" cx="1049" cy="638" r="2.2"/></g>
<g id="s172"><text class="l x" x="1053" y="643.4">Jones John M.</text><circle class="n" cx="1053" cy="642" r="2.2"/></g>
<g id="s173"><text class="l x" x="1050" y="648.4">Leonard Richard J.</text><circle class="n" cx="1050" cy="647" r="2.2"/></g>
<g id="s174"><text class="l x" x="987" y="659.4">Steinhauer David B.</text><circle class="n" cx="987" cy="658" r="2.2"/></g>
<g id="s175"><circle class="n" cx="993" cy="660" r="2.2"/></g>
<g id="s176"><text class="l x" x="998" y="667.4">Warren Brian</text><circle class="n" cx="998" cy="666" r="2.2"/></g>
<g id="s177"><text class="l x" x="992" y="671.4">Stone J.</text><circle class="n" cx="992" cy="670" r="2.2"/></g>
<g id="s178"><circle class="n" cx="997" cy="675" r="2.2"/></g>
<g id="s179"><text class="l x" x="992" y="680.4">Hamp A.</text><circle class="n" cx="992" cy="679" r="2.2"/></g>
<g id="s180"><circle class="n" cx="987" cy="680" r="2.2"/></g>
<g id="s181"><text class="l x" x="979" y="684.4">McMurtry Jerry J.</text><circle class="n" cx="979" cy="683" r="2.2"/></g>
<g id="s182"><text class="l x" x="903" y="614.4">Lutz Ricky</text><circle class="n" cx="903" cy="613" r="2.2"/></g>
<g id="s183"><text class="l x" x="908" y="620.4">Maddox David John</text><circle class="n" cx="908" cy="619" r="2.2"/></g>
<g id="s184"><circle class="n" cx="854" cy="629" r="2.2"/></g>
<g id="s185"><circle class="n" cx="878" cy="634" r="2.2"/></g>
<g id="s186"><text class="l x" x="846" y="642.4">Hassler Frank</text><circle class="n" cx="846" cy="641" r="2.2"/></g>
<g id="s187"><circle class="n" cx="882" cy="642" r="2.2"/></g>
<g id="s188"><text class="l x" x="904" y="650.4">Bean David M.</text><circle class="n" cx="900" cy="649" r="2.2"/></g>
<g id="s189"><circle class="n" cx="907" cy="651" r="2.2"/></g>
<g id="s190"><text class="l x" x="890" y="658.4">Price Ann</text><circle class="n" cx="890" cy="657" r="2.2"/></g>
<g id="s191"><circle class="n" cx="894" cy="658" r="2.2"/></g>
<g id="s192"><text class="l x" x="897" y="664.4">Kuhn Lisa</text><circle class="n" cx="897" cy="663" r="2.2"/></g>
<g id="s193"><circle class="n" cx="889" cy="667" r="2.2"/></g>
</g>
<g id="nodes">
<g id="n-prowse"><text class="l" x="349" y="5.6" font-size="7.5" textLength="55" lengthAdjust="spacingAndGlyphs">Prowse D. James</text><circle class="n" cx="349" cy="3" r="3.5"/></g>
<g id="n-welday"><text class="l" x="341" y="150.3" font-size="6.5" textLength="49" lengthAdjust="spacingAndGlyphs">Welday Douglas</text><circle class="n" cx="342" cy="148" r="3.5"/></g>
<g id="n-kessler"><text class="l" x="484" y="72.5" font-size="7" textLength="75" lengthAdjust="spacingAndGlyphs">Kessler Walter Bradford</text><circle class="n" cx="485" cy="70" r="3.5"/></g>
<g id="n-goode"><text class="l" x="444" y="120" font-size="6" textLength="40" lengthAdjust="spacingAndGlyphs">Goode Gary E.</text><circle class="n" cx="446" cy="118" r="3"/></g>
<g id="n-missad"><text class="l" x="500" y="125.3" font-size="9.5" textLength="75" lengthAdjust="spacingAndGlyphs">Missad Matthew J.</text><circle class="n" cx="502" cy="122" r="4.5"/></g>
<g id="n-mark"><text class="l" x="661" y="237" font-size="8.5" textLength="52" lengthAdjust="spacingAndGlyphs">Mark Clorine</text><circle class="n" cx="661" cy="234" r="4"/></g>
<g id="n-alleman"><text class="l" x="545" y="283.8" font-size="8" textLength="60" lengthAdjust="spacingAndGlyphs">Alleman Arnold A.</text><circle class="n" cx="545" cy="281" r="3.5"/></g>
<g id="n-mccann"><text class="l" x="617.5" y="290.6" font-size="7.5" textLength="61" lengthAdjust="spacingAndGlyphs">McCann Kathleen B.</text><circle class="n" cx="619" cy="288" r="3.5"/></g>
<g id="n-murray"><text class="l" x="635.5" y="297.3" font-size="9.5" textLength="63" lengthAdjust="spacingAndGlyphs">Murray Mark A.</text><circle class="n" cx="635" cy="294" r="4.5"/></g>
<g id="n-muschong"><text class="l" x="737" y="281" font-size="8.5" textLength="53" lengthAdjust="spacingAndGlyphs">Muschong Lisa A.</text><circle class="n" cx="738" cy="278" r="4"/></g>
<g id="n-peterson"><text class="l" x="743.5" y="305.8" font-size="5" textLength="37" lengthAdjust="spacingAndGlyphs">Peterson Bruce D.</text><circle class="n" cx="744" cy="304" r="2.8"/></g>
<g id="n-cubbin"><text class="l" x="598.5" y="341.5" font-size="7" textLength="69" lengthAdjust="spacingAndGlyphs">Cubbin Robert Samuel</text><circle class="n" cx="599" cy="339" r="3"/></g>
<g id="n-levin"><text class="l" x="624" y="347.5" font-size="10" textLength="41" lengthAdjust="spacingAndGlyphs">Levin Dale</text><circle class="n" cx="626" cy="344" r="4.5"/></g>
<g id="n-shaw"><text class="l" x="657" y="356.5" font-size="7" textLength="40" lengthAdjust="spacingAndGlyphs">Shaw Ruth C.</text><circle class="n" cx="658" cy="354" r="3"/></g>
<g id="n-brandon"><text class="l" x="717" y="352.5" font-size="10" textLength="70" lengthAdjust="spacingAndGlyphs">Brandon David A.</text><circle class="n" cx="719" cy="349" r="4.5"/></g>
<g id="n-white"><text class="l" x="534.5" y="358.3" font-size="9.5" textLength="65" lengthAdjust="spacingAndGlyphs">White B. Joseph</text><circle class="n" cx="535" cy="355" r="4.5"/></g>
<g id="n-meador"><text class="l" x="741" y="367.6" font-size="7.5" textLength="50" lengthAdjust="spacingAndGlyphs">Meador David E.</text><circle class="n" cx="741" cy="365" r="3.5"/></g>
<g id="n-camden"><text class="l" x="596" y="407.6" font-size="7.5" textLength="48" lengthAdjust="spacingAndGlyphs">Camden Carl T.</text><circle class="n" cx="597" cy="405" r="3.5"/></g>
<g id="n-parfetd"><text class="l" x="458" y="439.8" font-size="11" textLength="70" lengthAdjust="spacingAndGlyphs">Parfet Don R.</text><circle class="n" cx="458" cy="436" r="5"/></g>
<g id="n-castaing"><text class="l" x="162" y="430" font-size="9" textLength="84" lengthAdjust="spacingAndGlyphs">Castaing Francois J.</text><circle class="n" cx="162" cy="427" r="4"/></g>
<g id="n-laurence"><text class="l" x="215" y="431" font-size="7" textLength="70" lengthAdjust="spacingAndGlyphs">Buchanan Jean Laurence</text><circle class="n" cx="210" cy="423" r="2.5"/></g>
<g id="n-mclaughlin"><text class="l" x="205" y="437.5" font-size="7" textLength="70" lengthAdjust="spacingAndGlyphs">McLaughlin Johnstone</text><circle class="n" cx="205" cy="433" r="3"/></g>
<g id="n-gambrell"><text class="l" x="203" y="444.5" font-size="7" textLength="61" lengthAdjust="spacingAndGlyphs">Gambrell Michael R.</text><circle class="n" cx="203" cy="442" r="3.5"/></g>
<g id="n-morand"><text class="l" x="312.5" y="449" font-size="8.5" textLength="55" lengthAdjust="spacingAndGlyphs">Morand Pat G.</text><circle class="n" cx="314" cy="446" r="4"/></g>
<g id="n-losh"><text class="l" x="304.5" y="454.2" font-size="9" textLength="65" lengthAdjust="spacingAndGlyphs">Losh J. Michael</text><circle class="n" cx="304" cy="451" r="4"/></g>
<g id="n-cox"><text class="l" x="317.5" y="470.6" font-size="7.5" textLength="35" lengthAdjust="spacingAndGlyphs">Cox Tom K.</text><circle class="n" cx="318" cy="468" r="3.5"/></g>
<g id="n-mallett"><text class="l" x="634.5" y="470.6" font-size="7.5" textLength="46" lengthAdjust="spacingAndGlyphs">Mallett Conrad L.</text><circle class="n" cx="638" cy="468" r="3.5"/></g>
<g id="n-karmanos"><text class="l" x="660.5" y="473.6" font-size="7.5" textLength="57" lengthAdjust="spacingAndGlyphs">Karmanos Peter J.</text><circle class="n" cx="661" cy="471" r="3.5"/></g>
<g id="n-payne"><text class="l" x="556" y="508.6" font-size="7.5" textLength="42" lengthAdjust="spacingAndGlyphs">Payne Lisa A.</text><circle class="n" cx="556" cy="506" r="3.5"/></g>
<g id="n-ecofin"><text class="l" x="728" y="517.8" font-size="8" textLength="70" lengthAdjust="spacingAndGlyphs">Ecofin Jonathan Frank</text><circle class="n" cx="728" cy="515" r="3.5"/></g>
<g id="n-mcclure"><text class="l" x="798" y="525.6" font-size="7.5" textLength="60" lengthAdjust="spacingAndGlyphs">McClure Charles G.</text><circle class="n" cx="799" cy="523" r="3.5"/></g>
<g id="n-nicholsonjb"><text class="l" x="791.5" y="456.7" font-size="10.5" textLength="123" lengthAdjust="spacingAndGlyphs">Nicholson James Bruce</text><circle class="n" cx="790" cy="453" r="4.5"/></g>
<g id="n-whyte"><text class="l" x="879.5" y="520.3" font-size="9.5" textLength="68" lengthAdjust="spacingAndGlyphs">Whyte Bettina M.</text><circle class="n" cx="880" cy="517" r="4.5"/></g>
<g id="n-weese"><text class="l" x="881" y="528.5" font-size="7" textLength="57" lengthAdjust="spacingAndGlyphs">Weese William R.</text><circle class="n" cx="882" cy="526" r="2.5"/></g>
<g id="n-nicholsonjm"><text class="l" x="929.5" y="545.8" font-size="8" textLength="62" lengthAdjust="spacingAndGlyphs">Nicholson James M.</text><circle class="n" cx="930" cy="543" r="3.5"/></g>
<g id="n-zimmerman"><text class="l" x="992" y="495.8" font-size="8" textLength="78" lengthAdjust="spacingAndGlyphs">Zimmerman Lawrence A.</text><circle class="n" cx="992" cy="493" r="3.5"/></g>
<g id="n-callahan"><text class="l" x="994" y="537.8" font-size="8" textLength="50" lengthAdjust="spacingAndGlyphs">Callahan Gerald</text><circle class="n" cx="996" cy="535" r="3.5"/></g>
<g id="n-zerbe"><text class="l" x="1022" y="544.8" font-size="8" textLength="49" lengthAdjust="spacingAndGlyphs">Zerbe Robert L.</text><circle class="n" cx="1022" cy="542" r="3.5"/></g>
<g id="n-siduk"><text class="l" x="930" y="575.6" font-size="7.5" textLength="55" lengthAdjust="spacingAndGlyphs">Siduk Thomas W.</text><circle class="n" cx="929" cy="573" r="3.5"/></g>
<g id="n-laberne"><text class="l" x="1002" y="573.6" font-size="7.5" textLength="48" lengthAdjust="spacingAndGlyphs">LaBerne Mike J.</text><circle class="n" cx="999" cy="571" r="3.5"/></g>
<g id="n-miller"><text class="l" x="876" y="584.3" font-size="9.5" textLength="66" lengthAdjust="spacingAndGlyphs">Miller Eugene A.</text><circle class="n" cx="877" cy="581" r="4.5"/></g>
<g id="n-smith"><text class="l" x="793" y="586.6" font-size="7.5" textLength="51" lengthAdjust="spacingAndGlyphs">Smith Gregory C.</text><circle class="n" cx="794" cy="584" r="3.5"/></g>
<g id="n-parfetw"><text class="l" x="832" y="612" font-size="9" textLength="69" lengthAdjust="spacingAndGlyphs">Parfet William U.</text><circle class="n" cx="832" cy="609" r="4"/></g>
<g id="n-kennedy"><text class="l" x="1045" y="614.6" font-size="7.5" textLength="51" lengthAdjust="spacingAndGlyphs">Kennedy John C.</text><circle class="n" cx="1047" cy="612" r="3.5"/></g>
<g id="n-hislop"><text class="l" x="949.5" y="646.6" font-size="7.5" textLength="48" lengthAdjust="spacingAndGlyphs">Hislop James A.</text><circle class="n" cx="950" cy="644" r="3.5"/></g>
<g id="n-vanalstyne"><text class="l" x="868" y="632.5" font-size="7" textLength="52" lengthAdjust="spacingAndGlyphs">Van Alstyne Ann</text><circle class="n" cx="875" cy="630" r="3.5"/></g>
<g id="n-jamison"><text class="l" x="892" y="640.6" font-size="7.5" textLength="60" lengthAdjust="spacingAndGlyphs">Torgow Jamison</text><circle class="n" cx="893" cy="638" r="3.5"/></g>
<g id="n-robertr"><text class="l" x="925" y="661.6" font-size="7.5" textLength="54" lengthAdjust="spacingAndGlyphs">Gilbert Robert R.</text><circle class="n" cx="924" cy="659" r="3.5"/></g>
<g id="n-way"><text class="l" x="866" y="676.8" font-size="11" textLength="80" lengthAdjust="spacingAndGlyphs">Way Kenneth L.</text><circle class="n" cx="867" cy="673" r="5"/></g>
</g>
</svg>
